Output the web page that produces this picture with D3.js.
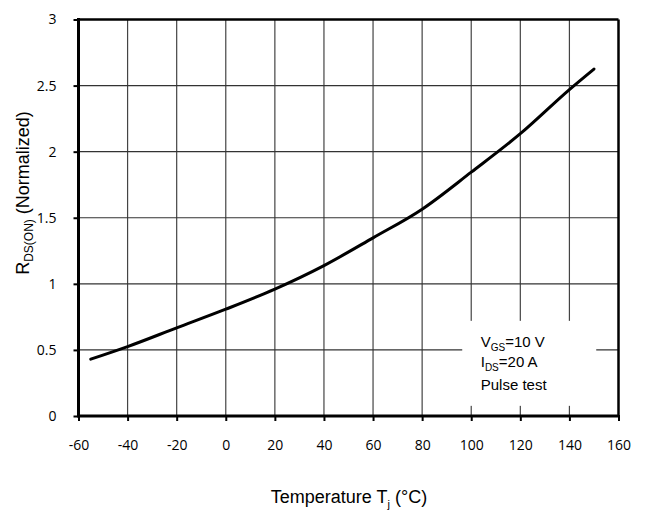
<!DOCTYPE html>
<html>
<head>
<meta charset="utf-8">
<script src="https://cdn.jsdelivr.net/npm/d3@7"></script>
<style>
  body { margin: 0; background: #fff; }
  svg { display: block; }
  .tick text { font-family: "Open Sans", "Liberation Sans", sans-serif; font-size: 14px; fill: #000; }
</style>
</head>
<body>
<div id="vis"></div>
<script>
// values
var temps = [-55, -40, -20, 0, 20, 40, 60, 80, 100, 120, 140, 150];
var rdson = [0.43, 0.525, 0.667, 0.808, 0.96, 1.138, 1.348, 1.565, 1.845, 2.136, 2.47, 2.625];
var xTicks = [-60, -40, -20, 0, 20, 40, 60, 80, 100, 120, 140, 160];
var yTicks = [0, 0.5, 1, 1.5, 2, 2.5, 3];

var width = 648, height = 516;
var margin = { top: 19.5, left: 78.5, bottom: 100, right: 29.5 };
var w = width - margin.left - margin.right;
var h = height - margin.top - margin.bottom;

var svg = d3.select('#vis').append('svg')
  .attr('width', width)
  .attr('height', height);

var g = svg.append('g')
  .attr('transform', 'translate(' + margin.left + ',' + margin.top + ')');

var x = d3.scaleLinear().domain([-60, 160]).range([0, w]);
var y = d3.scaleLinear().domain([0, 3]).range([h, 0]);

// grid
g.append('g').selectAll('line')
  .data(xTicks.slice(1, -1))
  .enter().append('line')
  .attr('x1', function(d) { return x(d); })
  .attr('x2', function(d) { return x(d); })
  .attr('y1', 0).attr('y2', h)
  .attr('stroke', '#444').attr('stroke-width', 1.2);

g.append('g').selectAll('line')
  .data(yTicks.slice(1, -1))
  .enter().append('line')
  .attr('x1', 0).attr('x2', w)
  .attr('y1', function(d) { return y(d); })
  .attr('y2', function(d) { return y(d); })
  .attr('stroke', '#333').attr('stroke-width', 1.2);

// legend box (white patch over the grid)
var boxTop = y(0.72);
g.append('rect')
  .attr('x', x(100) - 9).attr('y', boxTop)
  .attr('width', 134).attr('height', 85)
  .attr('fill', '#fff');

var lx = x(100) + 9.5;
var font = '"Liberation Sans", Arial, sans-serif';
var l1 = g.append('text').attr('font-family', font).attr('font-size', 15)
  .attr('x', lx).attr('y', boxTop + 26);
l1.append('tspan').text('V');
l1.append('tspan').attr('font-size', 10).attr('dy', 4).text('GS');
l1.append('tspan').attr('dy', -4).text('=10 V');

var l2 = g.append('text').attr('font-family', font).attr('font-size', 15)
  .attr('x', lx).attr('y', boxTop + 46);
l2.append('tspan').text('I');
l2.append('tspan').attr('font-size', 10).attr('dy', 4).text('DS');
l2.append('tspan').attr('dy', -4).text('=20 A');

g.append('text').attr('font-family', font).attr('font-size', 15)
  .attr('x', lx).attr('y', boxTop + 69)
  .text('Pulse test');

// axes
var xAxis = d3.axisBottom(x).tickValues(xTicks).tickSize(5).tickPadding(19).tickFormat(function(d) { return String(d); });
var yAxis = d3.axisLeft(y).tickValues(yTicks).tickSize(5).tickPadding(17).tickFormat(function(d) { return String(d); });

var gx = g.append('g').attr('transform', 'translate(0,' + h + ')').call(xAxis);
var gy = g.append('g').call(yAxis);
[gx, gy].forEach(function(a) {
  a.select('.domain').remove();
  a.selectAll('.tick line').attr('stroke', '#000').attr('stroke-width', 2);
});
gx.selectAll('.tick line').attr('y1', -1);
gy.selectAll('.tick line').attr('x1', 1);

// frame
g.append('line').attr('x1', 0).attr('x2', w).attr('y1', 0).attr('y2', 0)
  .attr('stroke', '#000').attr('stroke-width', 2.5);
g.append('line').attr('x1', w).attr('x2', w).attr('y1', 0).attr('y2', h)
  .attr('stroke', '#000').attr('stroke-width', 2.5);
g.append('line').attr('x1', 0).attr('x2', w).attr('y1', h).attr('y2', h)
  .attr('stroke', '#000').attr('stroke-width', 3);
g.append('line').attr('x1', 0).attr('x2', 0).attr('y1', -1.5).attr('y2', h + 1.5)
  .attr('stroke', '#000').attr('stroke-width', 3);

// curve
var line = d3.line()
  .x(function(d, i) { return x(temps[i]); })
  .y(function(d) { return y(d); })
  .curve(d3.curveMonotoneX);

g.append('path')
  .datum(rdson)
  .attr('d', line)
  .attr('fill', 'none')
  .attr('stroke', '#000')
  .attr('stroke-width', 3)
  .attr('stroke-linecap', 'round');

// axis titles
var xt = svg.append('text')
  .attr('font-family', font)
  .attr('font-size', 18)
  .attr('text-anchor', 'middle')
  .attr('x', 349).attr('y', 503);
xt.append('tspan').text('Temperature T');
xt.append('tspan').attr('font-size', 11).attr('dy', 5).text('j');
xt.append('tspan').attr('dy', -5).text(' (°C)');

var yt = svg.append('text')
  .attr('font-family', font)
  .attr('font-size', 18)
  .attr('text-anchor', 'middle')
  .attr('transform', 'translate(29,193) rotate(-90)');
yt.append('tspan').text('R');
yt.append('tspan').attr('font-size', 12).attr('dy', 4).text('DS(ON)');
yt.append('tspan').attr('dy', -4).text(' (Normalized)');
</script>
</body>
</html>
